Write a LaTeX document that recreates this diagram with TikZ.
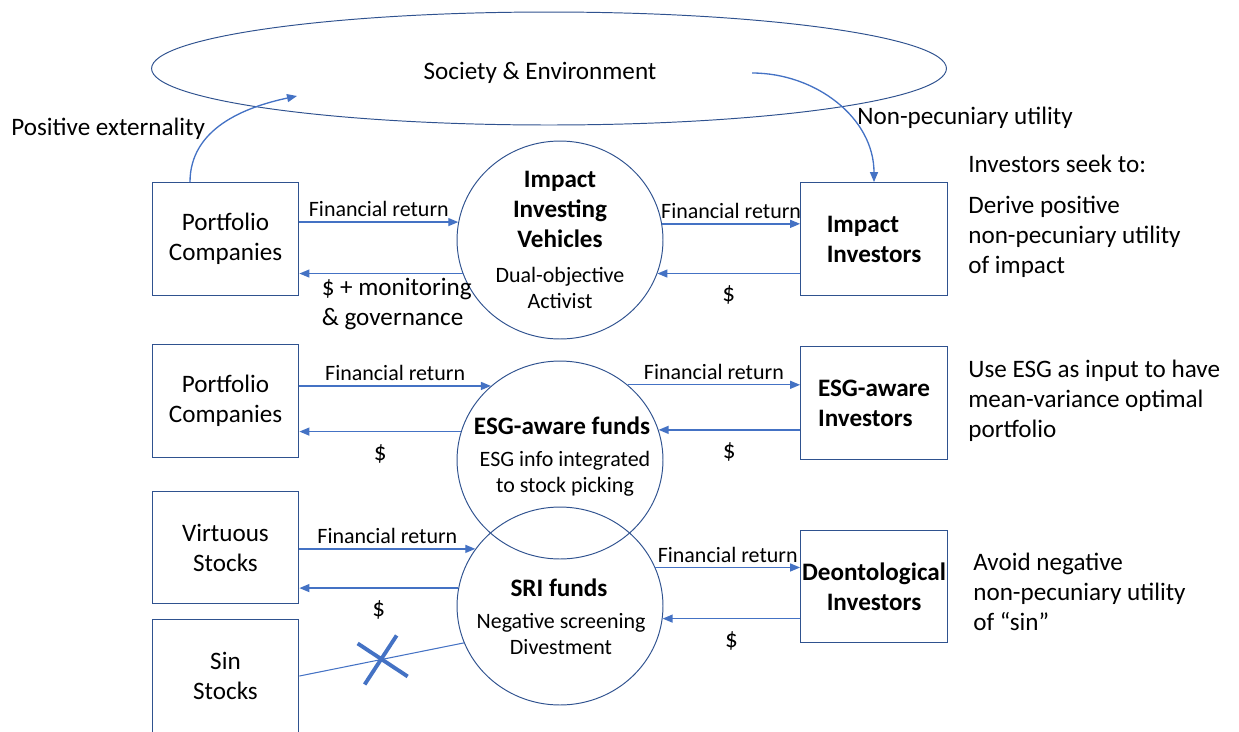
\documentclass[tikz,border=0pt]{standalone}
\usepackage{fontspec}
\setmainfont{Carlito}
\usetikzlibrary{shapes.geometric,arrows.meta}

\definecolor{flowblue}{HTML}{4472C4}
\definecolor{rimblue}{HTML}{2F528F}
\newcommand{\lbl}{\fontsize{12.5}{14.8}\selectfont}

\begin{document}
\begin{tikzpicture}[x=0.02cm,y=-0.02cm,>={Triangle[length=0.2cm,width=0.16cm]},
  font=\fontsize{14.3}{17.1}\selectfont,
  box/.style={draw=rimblue,line width=0.75pt,minimum width=2.93cm,minimum height=2.25cm,inner sep=0pt,align=center},
  fund/.style={draw=rimblue,line width=0.55pt,ellipse,minimum width=4.12cm,minimum height=3.96cm,inner sep=0pt},
  title/.style={font=\fontsize{14.3}{17.1}\selectfont\bfseries,align=center,inner sep=0pt},
  sub/.style={font=\lbl,align=center,inner sep=0pt},
  flow/.style={->,draw=flowblue,line width=0.75pt},
  ret/.style={above,font=\lbl,inner sep=2.5pt},
  cash/.style={below=0.15cm,inner sep=2.5pt},
  note/.style={anchor=west,align=left,inner sep=0pt}]
\useasboundingbox (0,0) rectangle (1239,731);

%society
\node[draw=rimblue,line width=0.55pt,ellipse,minimum width=15.9cm,minimum height=2.26cm,inner sep=0pt] (soc) at (549,68.5) {};
\node (socl) at (540,73) {Society \& Environment};

%companies and stocks
\node[box] (pc1) at (225.5,239) {Portfolio\\Companies};
\node[box] (pc2) at (225.5,401) {Portfolio\\Companies};
\node[box] (vs) at (225.5,547.5) {Virtuous\\Stocks};
\node[box] (ss) at (225.5,676) {Sin\\Stocks};

%funds
\node[fund] (iiv) at (560,240) {};
\node[fund] (esg) at (560,460) {};
\node[fund] (sri) at (560,606) {};
\node[title] (iivT) at (560,209) {Impact\\Investing\\Vehicles};
\node[sub] (iivS) at (560,288) {Dual-objective\\Activist};
\node[title] (esgT) at (562,426) {ESG-aware funds};
\node[sub] (esgS) at (565,474) {ESG info integrated\\to stock picking};
\node[title] (sriT) at (559,588) {SRI funds};
\node[sub] (sriS) at (561,634) {Negative screening\\Divestment};

%investors
\node[box,font=\fontsize{14.3}{17.1}\selectfont\bfseries,align=left] (ii) at (874,239) {Impact\\Investors};
\node[box,font=\fontsize{14.3}{17.1}\selectfont\bfseries,align=left] (ei) at (874,403) {ESG-aware\\Investors};
\node[box,font=\fontsize{14.3}{17.1}\selectfont\bfseries] (di) at (874,586.5) {Deontological\\Investors};

%what investors seek
\node[note] (seek) at (968,164) {Investors seek to:};
\node[note] (seek1) at (968,237) {Derive positive\\non-pecuniary utility\\of impact};
\node[note] (seek2) at (968,401) {Use ESG as input to have\\mean-variance optimal\\portfolio};
\node[note] (seek3) at (973,592) {Avoid negative\\non-pecuniary utility\\of ``sin''};

%externalities
\coordinate (pe) at (297,96);
\coordinate (np) at (752,73);
\draw[flow] ([xshift=-0.71cm]pc1.north) to[out=90,in=192] (pe);
\draw[flow] (np) to[out=0,in=90] (ii.north);
\node[note] (pel) at (11,129) {Positive externality};
\node[note] (npl) at (857,118) {Non-pecuniary utility};

%impact row
\draw[flow] (pc1.east |- iiv.170) -- (iiv.170) node[ret,midway] {Financial return};
\draw[flow] (iiv.199) -- (pc1.east |- iiv.199)
  node[pos=0.894,below right,align=left,inner sep=2.5pt] {\$ + monitoring\\\& governance};
\draw[flow] (iiv.9) -- (ii.west |- iiv.9) node[ret,midway] {Financial return};
\draw[flow] (ii.west |- iiv.341) -- (iiv.341) node[cash,midway] {\$};

%esg row
\draw[flow] (pc2.east |- esg.133) -- (esg.133) node[ret,midway] {Financial return};
\draw[flow] (esg.164) -- (pc2.east |- esg.164) node[cash,midway] {\$};
\draw[flow] (esg.48) -- (ei.west |- esg.48) node[ret,midway] {Financial return};
\draw[flow] (ei.west |- esg.17) -- (esg.17) node[cash,midway] {\$};

%sri row
\draw[flow] (vs.east |- sri.146) -- (sri.146) node[ret,midway] {Financial return};
\draw[flow] (sri.170) -- (vs.east |- sri.170) node[cash,midway] {\$};
\draw[flow] (sri.22) -- (di.west |- sri.22) node[ret,midway] {Financial return};
\draw[flow] (di.west |- sri.353) -- (sri.353) node[cash,midway] {\$};

%divested sin stocks
\draw[flowblue,line width=0.6pt] (ss.east) -- (sri.201) coordinate[midway] (cut);
\draw[flowblue,line width=2.2pt] ([shift={(-24,-16)}]cut) -- ([shift={(26,17)}]cut)
  ([shift={(-17,25)}]cut) -- ([shift={(15,-24)}]cut);
\end{tikzpicture}
\end{document}
